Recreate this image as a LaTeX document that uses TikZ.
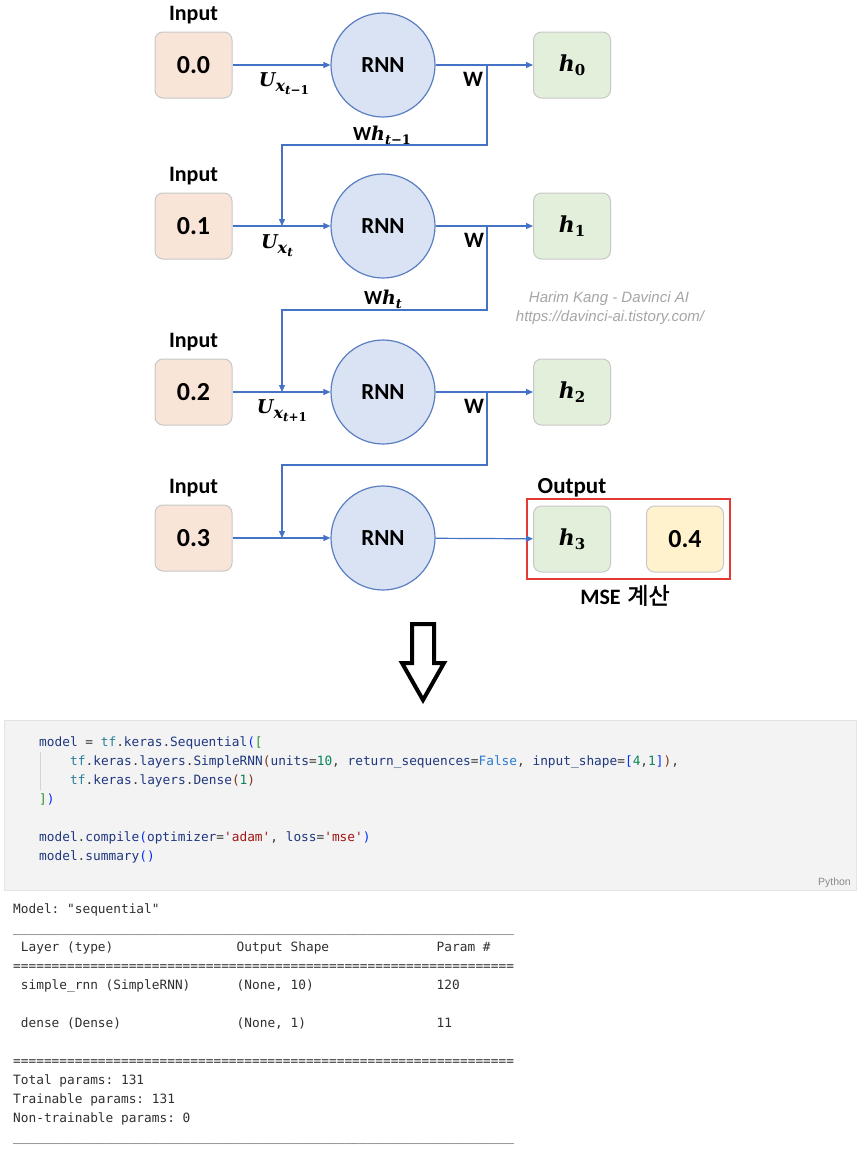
\documentclass[tikz,border=0pt]{standalone}
\usepackage{fontspec}
\newfontfamily\carl{Carlito}
\newfontfamily\codefont{DejaVu Sans Mono}
\newfontfamily\wmfont{Liberation Sans}
\newfontfamily\serifbi{DejaVu Serif}
\newfontfamily\krfont{Noto Sans CJK KR}[FakeBold=1.5]
\usetikzlibrary{arrows.meta}
\definecolor{lblue}{HTML}{4472C4}
\definecolor{cblue}{HTML}{5A7EC2}
\definecolor{cfill}{HTML}{DAE3F3}
\definecolor{peach}{HTML}{F8E5D7}
\definecolor{hgreen}{HTML}{E2EFDA}
\definecolor{tyellow}{HTML}{FFF2CC}
\definecolor{boxgray}{HTML}{C8C8C8}
\definecolor{redc}{HTML}{E53935}
\definecolor{wmgray}{HTML}{A6A6A6}
\definecolor{codebg}{HTML}{F3F3F3}
\definecolor{codeborder}{HTML}{E3E3E3}
\definecolor{cdvar}{HTML}{1F377F}
\definecolor{cdmod}{HTML}{267F99}
\definecolor{cdnum}{HTML}{098658}
\definecolor{cdstr}{HTML}{A31515}
\definecolor{cdkw}{HTML}{2B7BD0}
\definecolor{brA}{HTML}{0431FA}
\definecolor{brB}{HTML}{319331}
\definecolor{brC}{HTML}{7B3814}
\definecolor{cdtxt}{HTML}{3B3B3B}
\definecolor{guidec}{HTML}{D3D3D3}
\definecolor{sumtxt}{HTML}{303030}
\definecolor{pygray}{HTML}{8A8A8A}
\newcommand\cdV[1]{\textcolor{cdvar}{#1}}
\newcommand\cdM[1]{\textcolor{cdmod}{#1}}
\newcommand\cdN[1]{\textcolor{cdnum}{#1}}
\newcommand\cdS[1]{\textcolor{cdstr}{#1}}
\newcommand\cdK[1]{\textcolor{cdkw}{#1}}
\newcommand\brA[1]{\textcolor{brA}{#1}}
\newcommand\brB[1]{\textcolor{brB}{#1}}
\newcommand\brC[1]{\textcolor{brC}{#1}}
\newcommand\myQ{\textquotesingle}
\newcommand\myFs[1]{\fontsize{#1}{#1}\selectfont}
% h_<sub> in an output box
\newcommand\myH[1]{{\itshape\myFs{22}h}\raisebox{-4pt}{\upshape\myFs{15}#1}}
\def\myUsFive{\_\_\_\_\_}
\def\myUsLine{\myUsFive\myUsFive\myUsFive\myUsFive\myUsFive\myUsFive\myUsFive\myUsFive\myUsFive\myUsFive\myUsFive\myUsFive\myUsFive}
\def\myEqFive{=====}
\def\myEqLine{\myEqFive\myEqFive\myEqFive\myEqFive\myEqFive\myEqFive\myEqFive\myEqFive\myEqFive\myEqFive\myEqFive\myEqFive\myEqFive}
\frenchspacing
\begin{document}
\begin{tikzpicture}[x=1pt,y=-1pt,
  conn/.style={draw=lblue, line width=1.2pt, -{Triangle[length=7pt,width=6pt]}},
  inbox/.style={draw=boxgray, line width=1pt, rounded corners=8pt, minimum width=77pt, minimum height=66pt, inner sep=0, fill=peach, font=\carl\bfseries\fontsize{26}{30}\selectfont},
  hbox/.style={inbox, fill=hgreen, font=\serifbi\bfseries},
  tbox/.style={inbox, fill=tyellow},
  rnn/.style={circle, draw=cblue, line width=1.2pt, fill=cfill, minimum size=104pt, inner sep=0, font=\carl\bfseries\fontsize{23}{27}\selectfont},
  lbl/.style={font=\carl\bfseries\fontsize{22}{26}\selectfont, text=black, inner sep=0, anchor=base},
  mlbl/.style={font=\serifbi\bfseries, text=black, inner sep=0, anchor=base},
  wm/.style={font=\wmfont\itshape\fontsize{15}{18}\selectfont, text=wmgray, inner sep=0, anchor=base},
  code/.style={font=\codefont\fontsize{12.8}{15}\selectfont, text=cdtxt, inner sep=0, anchor=base west},
  sum/.style={font=\codefont\fontsize{12.8}{15}\selectfont, text=sumtxt, inner sep=0, anchor=base west}]
\useasboundingbox (0,0) rectangle (861,1151);
\fill[white] (0,0) rectangle (861,1151);

% ---- input labels and boxes
\node[lbl] (il1) at (193.5,20) {Input};
\node[lbl] (il2) at (193.5,181) {Input};
\node[lbl] (il3) at (193.5,347) {Input};
\node[lbl] (il4) at (193.5,493) {Input};
\node[inbox] (in1) at (193.5,65) {0.0};
\node[inbox] (in2) at (193.5,226) {0.1};
\node[inbox] (in3) at (193.5,392) {0.2};
\node[inbox] (in4) at (193.5,538) {0.3};

% ---- RNN cells
\node[rnn] (rnn1) at (383,65) {RNN};
\node[rnn] (rnn2) at (383,226) {RNN};
\node[rnn] (rnn3) at (383,392) {RNN};
\node[rnn] (rnn4) at (383,538) {RNN};

% ---- outputs
\node[hbox] (h0) at (572,65) {\myH{0}};
\node[hbox] (h1) at (572,226) {\myH{1}};
\node[hbox] (h2) at (572,392) {\myH{2}};
\node[hbox] (h3) at (572,539) {\myH{3}};
\node[tbox] (tg) at (685,539) {0.4};
\node[draw=redc, line width=2pt, minimum width=203pt, minimum height=80pt, inner sep=0] (mse) at (628.5,538.5) {};
\node[lbl, font=\carl\bfseries\fontsize{23}{27}\selectfont] (outl) at (572,493) {Output};
\node[lbl, font=\fontsize{22}{26}\selectfont] (msel) at (625,604) {{\carl\bfseries MSE} {\krfont\fontsize{23}{27}\selectfont 계산}};

% ---- connectors
\draw[conn] (in1) -- (rnn1);
\draw[conn] (in2) -- (rnn2);
\draw[conn] (in3) -- (rnn3);
\draw[conn] (in4) -- (rnn4);
\draw[conn] (rnn1) -- (h0);
\draw[conn] (rnn2) -- (h1);
\draw[conn] (rnn3) -- (h2);
\draw[conn] (rnn4) -- (h3);

\coordinate (j1) at (487,65);
\coordinate (j2) at (487,226);
\coordinate (j3) at (487,392);
\coordinate (k1) at (282,145);
\coordinate (k2) at (282,310);
\coordinate (k3) at (282,465);
\coordinate (d2) at (282,226);
\coordinate (d3) at (282,392);
\coordinate (d4) at (282,538);
\draw[conn] (j1) |- (k1) -- (d2);
\draw[conn] (j2) |- (k2) -- (d3);
\draw[conn] (j3) |- (k3) -- (d4);

% ---- labels on connectors
\node[mlbl] (u1) at (284,86) {{\itshape\myFs{19}U}\raisebox{-5pt}{\itshape\myFs{16}x\raisebox{-3pt}{\myFs{12}t\upshape −1}}};
\node[mlbl] (u2) at (277,248) {{\itshape\myFs{19}U}\raisebox{-5pt}{\itshape\myFs{16}x\raisebox{-3pt}{\myFs{12}t}}};
\node[mlbl] (u3) at (282,413) {{\itshape\myFs{19}U}\raisebox{-5pt}{\itshape\myFs{16}x\raisebox{-3pt}{\myFs{12}t\upshape +1}}};
\node[lbl] (w1) at (473,86) {W};
\node[lbl] (w2) at (474,247) {W};
\node[lbl] (w3) at (474,413) {W};
\node[mlbl] (wh1) at (382,140) {{\carl\myFs{20}W}{\itshape\myFs{19}h}\raisebox{-4pt}{\myFs{13}{\itshape t}−1}};
\node[mlbl] (wh2) at (383,304) {{\carl\myFs{20}W}{\itshape\myFs{19}h}\raisebox{-4pt}{\myFs{13}\itshape t}};

% ---- watermark
\node[wm] (wm1) at (609,302) {Harim Kang - Davinci AI};
\node[wm] (wm2) at (610,321) {https://davinci-ai.tistory.com/};

% ---- hollow down arrow
\draw[line width=4pt, black, fill=white, line join=miter]
  (412,624) -- (434,624) -- (434,663) -- (444,663) -- (423,700) -- (402,663) -- (412,663) -- cycle;

% ---- code cell
\draw[fill=codebg, draw=codeborder, line width=1pt] (4,720) rectangle (856,890);
\draw[guidec, line width=1pt] (40,752) -- (40,790);
\node[code] (c1) at (39,746) {\cdV{model} = \cdM{tf}.\cdV{keras}.\cdV{Sequential}\brA{(}\brB{[}};
\node[code] (c2) at (70,765) {\cdM{tf}.\cdV{keras}.\cdV{layers}.\cdV{SimpleRNN}\brC{(}\cdV{units}=\cdN{10}, \cdV{return\_sequences}=\cdK{False}, \cdV{input\_shape}=\brA{[}\cdN{4},\cdN{1}\brA{]}\brC{)},};
\node[code] (c3) at (70,784) {\cdM{tf}.\cdV{keras}.\cdV{layers}.\cdV{Dense}\brC{(}\cdN{1}\brC{)}};
\node[code] (c4) at (39,803) {\brB{]}\brA{)}};
\node[code] (c5) at (39,841) {\cdV{model}.\cdV{compile}\brA{(}\cdV{optimizer}=\cdS{\myQ adam\myQ}, \cdV{loss}=\cdS{\myQ mse\myQ}\brA{)}};
\node[code] (c6) at (39,860) {\cdV{model}.\cdV{summary}\brA{()}};
\node[font=\wmfont\fontsize{10.5}{12}\selectfont, text=pygray, inner sep=0, anchor=base east] (py) at (851,885) {Python};

% ---- model summary
\node[sum] (s0) at (13,913) {Model: \textquotedbl sequential\textquotedbl};
\node[sum] (s1) at (13,932) {\myUsLine};
\node[sum] (s2a) at (20.7,951) {Layer (type)};
\node[sum] (s2b) at (236.5,951) {Output Shape};
\node[sum] (s2c) at (436.5,951) {Param \#};
\node[sum] (s3) at (13,970) {\myEqLine};
\node[sum] (s4a) at (20.7,989) {simple\_rnn (SimpleRNN)};
\node[sum] (s4b) at (236.5,989) {(None, 10)};
\node[sum] (s4c) at (436.5,989) {120};
\node[sum] (s6a) at (20.7,1027) {dense (Dense)};
\node[sum] (s6b) at (236.5,1027) {(None, 1)};
\node[sum] (s6c) at (436.5,1027) {11};
\node[sum] (s8) at (13,1065) {\myEqLine};
\node[sum] (s9) at (13,1084) {Total params: 131};
\node[sum] (s10) at (13,1103) {Trainable params: 131};
\node[sum] (s11) at (13,1122) {Non-trainable params: 0};
\node[sum] (s12) at (13,1141) {\myUsLine};
\end{tikzpicture}
\end{document}
